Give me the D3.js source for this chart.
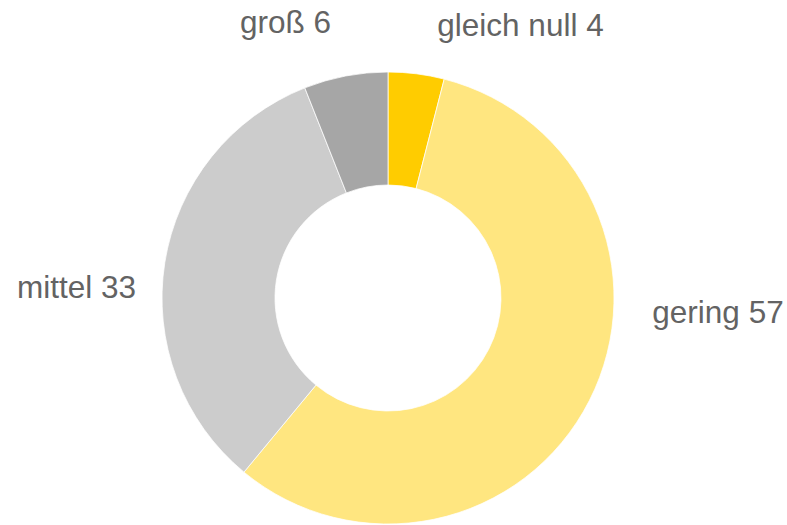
<!DOCTYPE html>
<html>
<head>
<meta charset="utf-8">
<script src="https://cdn.jsdelivr.net/npm/d3@7"></script>
<style>
  html, body { margin: 0; padding: 0; background: #ffffff; }
  svg { display: block; }
</style>
</head>
<body>
<svg id="chart" width="787" height="525"></svg>
<script>
// Data
const categories = ["gleich null", "gering", "mittel", "groß"];
const values = [4, 57, 33, 6];
const colors = ["#FFCC00", "#FFE680", "#CCCCCC", "#A6A6A6"];

// Layout (not data)
const W = 787, H = 525;
const cx = 388, cy = 298;
const outerR = 226, innerR = 113;
// label positions relative to the center (text center x, baseline y)
const labelOffsets = [[132.5, -262], [330, 25], [-311.5, 0], [-102.5, -265]];

const svg = d3.select("#chart");
const g = svg.append("g").attr("transform", `translate(${cx},${cy})`);

const data = categories.map((c, i) => ({ cat: c, value: values[i], color: colors[i], i }));

const pie = d3.pie().value(d => d.value).sort(null);
const arc = d3.arc().innerRadius(innerR).outerRadius(outerR);

const arcs = pie(data);

g.selectAll("path.slice")
  .data(arcs)
  .join("path")
  .attr("class", "slice")
  .attr("d", arc)
  .attr("fill", d => d.data.color)
  .attr("stroke", "#ffffff")
  .attr("stroke-width", 0.75);

g.selectAll("text.label")
  .data(arcs)
  .join("text")
  .attr("class", "label")
  .attr("x", d => labelOffsets[d.data.i][0])
  .attr("y", d => labelOffsets[d.data.i][1])
  .attr("text-anchor", "middle")
  .attr("font-family", "Liberation Sans, Arial, sans-serif")
  .attr("font-size", "31.5px")
  .attr("fill", "#636363")
  .text(d => `${d.data.cat} ${d.data.value}`);
</script>
</body>
</html>
